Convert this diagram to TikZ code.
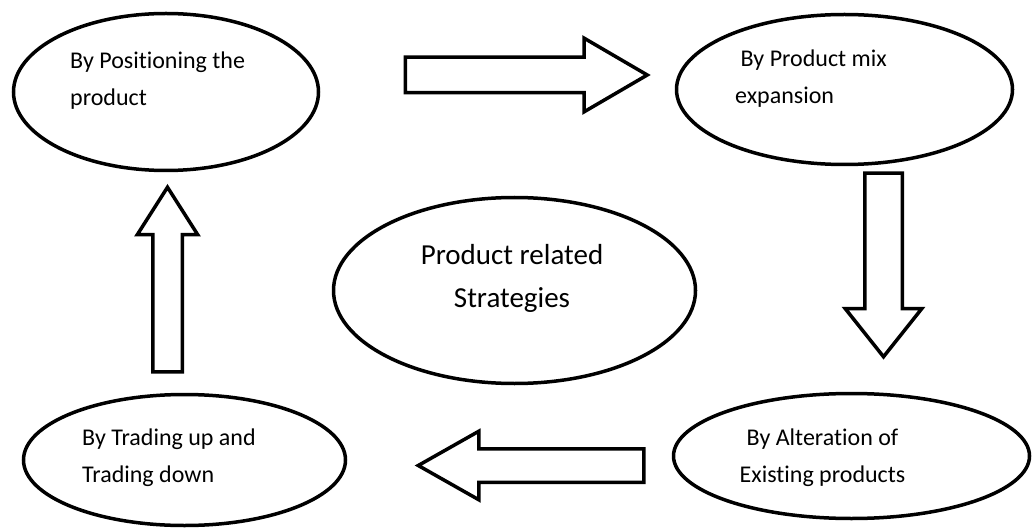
\documentclass[tikz,border=0pt]{standalone}
\usepackage{fontspec}
\setmainfont[Ligatures=NoCommon]{Carlito}
\usetikzlibrary{shapes.geometric,shapes.arrows,positioning}

\begin{document}
\begin{tikzpicture}[
  x=1pt, y=-1pt,
  oval/.style={ellipse, draw, line width=3.5pt, inner sep=0pt},
  blockarr/.style={single arrow, draw, line width=3.5pt, inner xsep=0pt,
    single arrow head indent=0pt, anchor=tail},
  lbl/.style={font=\fontsize{24}{37}\selectfont, inner sep=0pt, align=left, anchor=base west},
  core/.style={font=\fontsize{29}{43}\selectfont, inner sep=0pt, align=center, anchor=base}
]
  \useasboundingbox (0,0) rectangle (1035,529);

  % Ellipses
  \node[oval, minimum width=305pt, minimum height=157pt] (pos) at (166,92) {};
  \node[oval, minimum width=336pt, minimum height=150pt] (mix) at (844.5,89.5) {};
  \node[oval, minimum width=362pt, minimum height=186pt] (strat) at (514.5,290.5) {};
  \node[oval, minimum width=356pt, minimum height=125pt] (alter) at (851.5,456) {};
  \node[oval, minimum width=322pt, minimum height=131pt] (trade) at (184.5,460) {};

  % Texts (anchored on the last line)
  \node[lbl] (posTxt) at (70,106) {By Positioning the\\product};
  \node[lbl] (mixTxt) at (735,104) {\ By Product mix\\expansion};
  \node[core] (stratTxt) at (512,307) {Product related\\Strategies};
  \node[lbl, align=center, anchor=base] (alterTxt) at (822.5,482) {By Alteration of\\Existing products};
  \node[lbl] (tradeTxt) at (82,482) {By Trading up and\\Trading down};

  % Block arrows
  \node[blockarr, minimum height=242pt, inner ysep=16pt,
    single arrow head extend=19pt, single arrow tip angle=60.5] (toMix) at (403.5,75) {};
  \node[blockarr, rotate=-90, minimum height=183.5pt, inner ysep=17pt,
    single arrow head extend=19.5pt, single arrow tip angle=77] (toAlter) at (883.5,171.5) {};
  \node[blockarr, rotate=180, minimum height=225.5pt, inner ysep=15pt,
    single arrow head extend=17.5pt, single arrow tip angle=59] (toTrade) at (645.5,465.5) {};
  \node[blockarr, rotate=90, minimum height=184.5pt, inner ysep=13pt,
    single arrow head extend=15.5pt, single arrow tip angle=65] (toPos) at (167.5,373.5) {};
\end{tikzpicture}
\end{document}
